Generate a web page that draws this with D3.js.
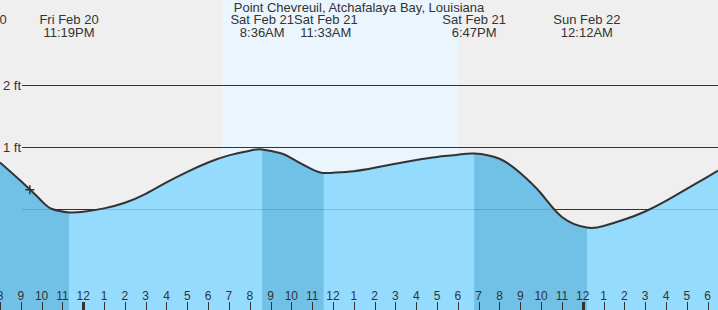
<!DOCTYPE html>
<html>
<head>
<meta charset="utf-8">
<script src="https://cdn.jsdelivr.net/npm/d3@7"></script>
<style>
  body { margin: 0; background: #efefef; }
  svg { display: block; font-family: "Liberation Sans", Arial, sans-serif; }
</style>
</head>
<body>
<svg id="chart"></svg>
<script>
"use strict";

// ==========================
// data
// ==========================
var title = "Point Chevreuil, Atchafalaya Bay, Louisiana";
var viewStart = "2026-02-20T20:00", viewEnd = "2026-02-22T06:30";
var sunrise = "2026-02-21T06:41", sunset = "2026-02-21T18:02";

var eventTimes = ["2026-02-20T18:54", "2026-02-20T23:19", "2026-02-21T08:36", "2026-02-21T11:33", "2026-02-21T18:47", "2026-02-22T00:12"];
var eventTypes = ["high", "low", "high", "low", "high", "low"];

var levelTimes = [
  "2026-02-20T20:00", "2026-02-20T21:00", "2026-02-20T22:00", "2026-02-20T22:30", "2026-02-20T23:19",
  "2026-02-21T00:00", "2026-02-21T01:00", "2026-02-21T02:00", "2026-02-21T03:00", "2026-02-21T04:00",
  "2026-02-21T05:00", "2026-02-21T06:00", "2026-02-21T07:00", "2026-02-21T08:00", "2026-02-21T08:36",
  "2026-02-21T09:30", "2026-02-21T10:00", "2026-02-21T11:00", "2026-02-21T11:33", "2026-02-21T12:00",
  "2026-02-21T13:00", "2026-02-21T14:00", "2026-02-21T15:00", "2026-02-21T16:00", "2026-02-21T17:00",
  "2026-02-21T18:00", "2026-02-21T18:47", "2026-02-21T20:00", "2026-02-21T21:00",
  "2026-02-21T22:00", "2026-02-21T23:00", "2026-02-22T00:12", "2026-02-22T01:00",
  "2026-02-22T02:00", "2026-02-22T03:00", "2026-02-22T04:00", "2026-02-22T05:00", "2026-02-22T06:00",
  "2026-02-22T06:30"
];
var levelFeet = [
  0.75, 0.45, 0.13, 0.0, -0.055,
  -0.045, 0.01, 0.10, 0.245, 0.43,
  0.60, 0.75, 0.865, 0.94, 0.96,
  0.90, 0.82, 0.64, 0.58, 0.585,
  0.61, 0.665, 0.73, 0.79, 0.84,
  0.875, 0.895, 0.81, 0.58,
  0.25, -0.13, -0.30, -0.275,
  -0.17, -0.04, 0.13, 0.325, 0.52,
  0.62
];

var gridFeet = [0, 1, 2];
var nowTime = "2026-02-20T21:26", nowFeet = 0.31;

// ==========================
// chart
// ==========================
var width = 718, height = 310;
var parse = d3.timeParse("%Y-%m-%dT%H:%M");

var svg = d3.select("#chart").attr("width", width).attr("height", height);

var x = d3.scaleTime().domain([parse(viewStart), parse(viewEnd)]).range([0, width]);
var y = d3.scaleLinear().domain([0, 2]).range([209, 85]);

var levels = levelTimes.map(function (t, i) {
  return { time: parse(t), ft: levelFeet[i] };
});
var events = eventTimes.map(function (t, i) {
  return { time: parse(t), type: eventTypes[i] };
});

// background + daylight
svg.append("rect").attr("width", width).attr("height", height).attr("fill", "#efefef");
svg.append("rect")
  .attr("x", x(parse(sunrise))).attr("y", 0)
  .attr("width", x(parse(sunset)) - x(parse(sunrise))).attr("height", height)
  .attr("fill", "#eaf5fe");

// grid lines
var grid = svg.append("g");
grid.selectAll("line").data(gridFeet).enter().append("line")
  .attr("x1", 22).attr("x2", width)
  .attr("y1", function (d) { return Math.round(y(d)) + 0.5; })
  .attr("y2", function (d) { return Math.round(y(d)) + 0.5; })
  .attr("stroke", "#333").attr("stroke-width", 1);
grid.selectAll("text").data(gridFeet).enter().append("text")
  .attr("x", 3).attr("y", function (d) { return y(d); }).attr("dy", "0.36em")
  .attr("font-size", 13).attr("fill", "#333")
  .text(function (d) { return d + " ft"; });

// water
var curve = d3.curveNatural;
var area = d3.area()
  .x(function (d) { return x(d.time); })
  .y0(height)
  .y1(function (d) { return y(d.ft); })
  .curve(curve);
var line = d3.line()
  .x(function (d) { return x(d.time); })
  .y(function (d) { return y(d.ft); })
  .curve(curve);

svg.append("clipPath").attr("id", "water").append("path").attr("d", area(levels));

var water = svg.append("g").attr("clip-path", "url(#water)");
water.append("rect").attr("width", width).attr("height", height).attr("fill", "#95dbfd");

// falling tide (high -> low) is darker
water.selectAll("rect.seg").data(events).enter().append("rect")
  .attr("class", "seg")
  .attr("x", function (d) { return Math.max(0, x(d.time)); })
  .attr("y", 0)
  .attr("width", function (d, i) {
    var end = i < events.length - 1 ? x(events[i + 1].time) : width;
    return Math.max(0, end - Math.max(0, x(d.time)));
  })
  .attr("height", height)
  .attr("fill", function (d) { return d.type == "high" ? "#70c1e5" : "none"; });

water.selectAll("line").data(gridFeet).enter().append("line")
  .attr("x1", 22).attr("x2", width)
  .attr("y1", function (d) { return Math.round(y(d)) + 0.5; })
  .attr("y2", function (d) { return Math.round(y(d)) + 0.5; })
  .attr("stroke", "#000").attr("stroke-opacity", 0.13);

svg.append("path").attr("d", line(levels))
  .attr("fill", "none").attr("stroke", "#333").attr("stroke-width", 2);

// now marker
var nx = x(parse(nowTime)), ny = y(nowFeet);
svg.append("path")
  .attr("d", "M" + (nx - 4.5) + "," + ny + "H" + (nx + 4.5) + "M" + nx + "," + (ny - 4.5) + "V" + (ny + 4.5))
  .attr("stroke", "#333").attr("stroke-width", 1.5);

// hour axis
var hours = x.ticks(d3.timeHour.every(1));
var axis = svg.append("g");
axis.selectAll("line").data(hours).enter().append("line")
  .attr("x1", function (d) { return Math.round(x(d)) + 0.5; })
  .attr("x2", function (d) { return Math.round(x(d)) + 0.5; })
  .attr("y1", 302).attr("y2", height)
  .attr("stroke", "#333")
  .attr("stroke-width", function (d) { return d.getHours() == 0 ? 3 : 1; });
axis.selectAll("text").data(hours).enter().append("text")
  .attr("x", function (d) { return x(d); }).attr("y", 300)
  .attr("text-anchor", "middle").attr("font-size", 12).attr("fill", "#333")
  .text(d3.timeFormat("%-I"));

// tide event labels
var fmtDay = d3.timeFormat("%a %b %-d"), fmtTime = d3.timeFormat("%-I:%M%p");
var labels = svg.append("g").selectAll("g").data(events).enter().append("g");
labels.append("text").attr("y", 24).attr("text-anchor", "middle")
  .attr("font-size", 13).attr("fill", "#333")
  .text(function (d) { return fmtDay(d.time); });
labels.append("text").attr("y", 37).attr("text-anchor", "middle")
  .attr("font-size", 13).attr("fill", "#333")
  .text(function (d) { return fmtTime(d.time); });

var prevRight = -Infinity;
labels.each(function (d) {
  var w = d3.max(d3.select(this).selectAll("text").nodes(), function (n) { return n.getComputedTextLength(); });
  var cx = x(d.time);
  if (cx - w / 2 < prevRight) cx = prevRight + w / 2;
  prevRight = cx + w / 2;
  d3.select(this).attr("transform", "translate(" + cx + ",0)");
});

svg.append("text").attr("x", width / 2).attr("y", 12)
  .attr("text-anchor", "middle").attr("font-size", 13).attr("fill", "#333")
  .text(title);
</script>
</body>
</html>
